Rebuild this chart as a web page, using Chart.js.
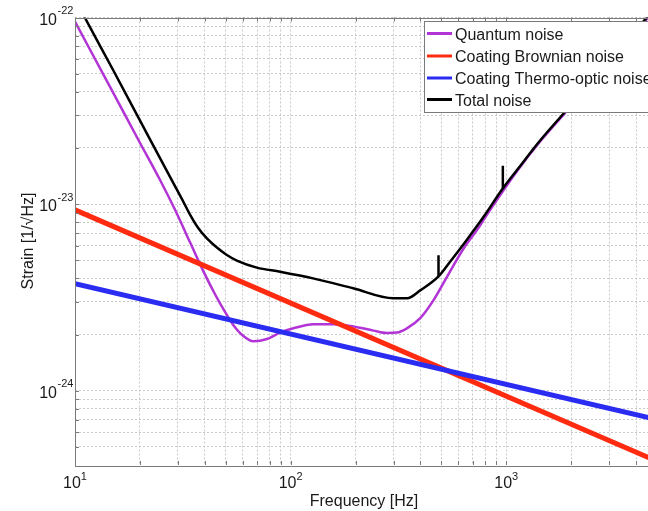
<!DOCTYPE html>
<html>
<head>
<meta charset="utf-8">
<script src="https://cdn.jsdelivr.net/npm/chart.js@4.4.1/dist/chart.umd.min.js"></script>
<style>
  html, body { margin: 0; padding: 0; background: #fff; overflow: hidden; }
  canvas { display: block; }
</style>
</head>
<body>
<canvas id="noise" width="665" height="511"></canvas>
<script>
// Noise budget: strain amplitude spectral densities [1/sqrt(Hz)] versus frequency [Hz]
const quantumFreq   = [10, 15, 20, 24.8, 29.1, 34.2, 39.4, 44.6, 49.7, 54.3, 60.4, 67.2, 77.6, 89.4, 103, 127.6, 158, 195.6, 242, 279.5, 311, 346, 399, 460, 531, 634, 757, 785, 938, 1121, 1438, 1914, 2800, 5000];
const quantumStrain = [9.5e-23, 3.97e-23, 2.133e-23, 1.346e-23, 9.32e-24, 6.22e-24, 4.36e-24, 3.29e-24, 2.635e-24, 2.246e-24, 1.963e-24, 1.84e-24, 1.892e-24, 2.05e-24, 2.16e-24, 2.27e-24, 2.27e-24, 2.21e-24, 2.10e-24, 2.04e-24, 2.05e-24, 2.16e-24, 2.45e-24, 3.06e-24, 4.08e-24, 5.78e-24, 7.69e-24, 8.24e-24, 1.12e-23, 1.5e-23, 2.17e-23, 3.17e-23, 5.3e-23, 1.13e-22];

const brownianFreq   = [10, 5000];
const brownianStrain = [9.31e-24, 4.19e-25];

const thermoOpticFreq   = [10, 5000];
const thermoOpticStrain = [3.75e-24, 7.0e-25];

const totalFreq   = [10, 11.1, 15, 20, 25, 31.3, 34.2, 37.2, 41.0, 45.5, 50.2, 56.3, 69.7, 89.4, 127, 195, 299, 347, 399, 485, 550, 657, 785, 938, 964, 1121, 1438, 1914, 2800, 5000];
const totalStrain = [1.26e-22, 1.0e-22, 5.25e-23, 2.81e-23, 1.73e-23, 1.067e-23, 8.76e-24, 7.47e-24, 6.53e-24, 5.85e-24, 5.37e-24, 4.98e-24, 4.57e-24, 4.34e-24, 4.0e-24, 3.54e-24, 3.13e-24, 3.13e-24, 3.45e-24, 4.10e-24, 4.93e-24, 6.45e-24, 8.55e-24, 1.162e-23, 1.214e-23, 1.522e-23, 2.199e-23, 3.216e-23, 5.4e-23, 1.15e-22];

// narrow resonance lines on top of the total
const lineFreqs      = [485, 964];
const lineBaseStrain = [4.10e-24, 1.214e-23];
const linePeakStrain = [5.32e-24, 1.604e-23];

const seriesLabels = ['Quantum noise', 'Coating Brownian noise', 'Coating Thermo-optic noise', 'Total noise'];
const seriesColors = ['#b334d6', '#ff2b10', '#2a2cf2', '#000000'];

// grid and decade labels
const xGridValues = [10, 20, 30, 40, 50, 60, 70, 80, 90, 100, 200, 300, 400, 500, 600, 700, 800, 900, 1000, 2000, 3000, 4000, 5000];
const yGridValues = [5e-25, 6e-25, 7e-25, 8e-25, 9e-25, 1e-24, 2e-24, 3e-24, 4e-24, 5e-24, 6e-24, 7e-24, 8e-24, 9e-24, 1e-23, 2e-23, 3e-23, 4e-23, 5e-23, 6e-23, 7e-23, 8e-23, 9e-23, 1e-22];
const xDecadeValues = [10, 100, 1000];
const xDecadeExps   = ['1', '2', '3'];
const yDecadeValues = [1e-22, 1e-23, 1e-24];
const yDecadeExps   = ['-22', '-23', '-24'];
const xTitle = 'Frequency [Hz]';
const yTitle = 'Strain [1/\u221AHz]';

const FONT = '"Liberation Sans", Arial, Helvetica, sans-serif';
const TEXT = '#1a1a1a';
const AXIS = '#7a7a7a';

const pts = (xs, ys) => xs.map((x, i) => ({ x: x, y: ys[i] }));

const framePlugin = {
  id: 'frame',
  afterDraw(chart) {
    const ctx = chart.ctx;
    const a = chart.chartArea;
    const xs = chart.scales.x, ys = chart.scales.y;
    ctx.save();

    // axes box
    ctx.strokeStyle = AXIS;
    ctx.lineWidth = 1;
    ctx.strokeRect(Math.round(a.left) + 0.5, Math.round(a.top) + 0.5,
                   Math.round(a.right - a.left), Math.round(a.bottom - a.top));

    // inward tick marks
    ctx.beginPath();
    xGridValues.forEach(v => {
      const px = Math.round(xs.getPixelForValue(v)) + 0.5;
      ctx.moveTo(px, a.bottom); ctx.lineTo(px, a.bottom - 4);
      ctx.moveTo(px, a.top); ctx.lineTo(px, a.top + 4);
    });
    yGridValues.forEach(v => {
      const py = Math.round(ys.getPixelForValue(v)) + 0.5;
      ctx.moveTo(a.left, py); ctx.lineTo(a.left + 4, py);
      ctx.moveTo(a.right, py); ctx.lineTo(a.right - 4, py);
    });
    ctx.stroke();

    // decade tick labels with superscript exponents
    ctx.fillStyle = TEXT;
    ctx.textBaseline = 'alphabetic';
    const baseFont = '16px ' + FONT, expFont = '11px ' + FONT;
    xDecadeValues.forEach((v, i) => {
      const px = xs.getPixelForValue(v);
      ctx.font = baseFont; const w1 = ctx.measureText('10').width;
      ctx.font = expFont;  const w2 = ctx.measureText(xDecadeExps[i]).width;
      const x0 = px - (w1 + w2) / 2;
      ctx.font = baseFont; ctx.textAlign = 'left'; ctx.fillText('10', x0, 487.5);
      ctx.font = expFont;  ctx.fillText(xDecadeExps[i], x0 + w1, 480);
    });
    yDecadeValues.forEach((v, i) => {
      const py = ys.getPixelForValue(v);
      ctx.font = baseFont; ctx.textAlign = 'right'; ctx.fillText('10', 57, py + 7.3);
      ctx.font = expFont;  ctx.textAlign = 'left';  ctx.fillText(yDecadeExps[i], 57.5, py - 3.3);
    });

    // axis titles
    ctx.font = '16px ' + FONT;
    ctx.textAlign = 'center';
    ctx.fillText(xTitle, 364, 505.5);
    ctx.save();
    ctx.translate(33, 241);
    ctx.rotate(-Math.PI / 2);
    ctx.fillText(yTitle, 0, 0);
    ctx.restore();

    // legend box in the upper right of the axes
    const lx = 424, ly = 21, lw = 240, lh = 91;
    ctx.fillStyle = '#ffffff';
    ctx.fillRect(lx, ly, lw, lh);
    ctx.strokeStyle = AXIS;
    ctx.strokeRect(lx + 0.5, ly + 0.5, lw, lh);
    const rows = [33.5, 56, 78, 99.5];
    ctx.font = '16px ' + FONT;
    ctx.textAlign = 'left';
    seriesLabels.forEach((label, i) => {
      ctx.strokeStyle = seriesColors[i];
      ctx.lineWidth = 3;
      ctx.beginPath();
      ctx.moveTo(427, rows[i]); ctx.lineTo(452, rows[i]);
      ctx.stroke();
      ctx.fillStyle = TEXT;
      ctx.fillText(label, 455, rows[i] + 6);
    });
    ctx.restore();
  }
};

const gridStyle = { color: '#c9c9c9', lineWidth: 1, drawTicks: false };
const borderStyle = { display: false, dash: [2, 2] };

new Chart(document.getElementById('noise'), {
  type: 'line',
  data: {
    datasets: [
      { label: seriesLabels[0], data: pts(quantumFreq, quantumStrain), borderColor: seriesColors[0],
        borderWidth: 2.5, order: 3, cubicInterpolationMode: 'monotone' },
      { label: seriesLabels[1], data: pts(brownianFreq, brownianStrain), borderColor: seriesColors[1],
        borderWidth: 5, order: 2 },
      { label: seriesLabels[2], data: pts(thermoOpticFreq, thermoOpticStrain), borderColor: seriesColors[2],
        borderWidth: 5, order: 1 },
      { label: seriesLabels[3], data: pts(totalFreq, totalStrain), borderColor: seriesColors[3],
        borderWidth: 2.5, order: 0, cubicInterpolationMode: 'monotone' },
      ...lineFreqs.map((f, i) => ({
        label: seriesLabels[3], data: [{ x: f, y: lineBaseStrain[i] }, { x: f, y: linePeakStrain[i] }],
        borderColor: seriesColors[3], borderWidth: 2.5, order: 0
      }))
    ]
  },
  options: {
    responsive: false,
    animation: false,
    devicePixelRatio: 1,
    layout: { padding: { left: 75, top: 17.5, right: 8, bottom: 46 } },
    elements: { point: { radius: 0, hoverRadius: 0 }, line: { fill: false, tension: 0 } },
    datasets: { line: { clip: 0 } },
    plugins: { legend: { display: false }, tooltip: { enabled: false } },
    scales: {
      x: {
        type: 'logarithmic', min: 10, max: 5000,
        afterBuildTicks: s => { s.ticks = xGridValues.map(v => ({ value: v })); },
        ticks: { display: false },
        grid: gridStyle, border: borderStyle
      },
      y: {
        type: 'logarithmic', min: 4.14e-25, max: 1e-22,
        afterBuildTicks: s => { s.ticks = yGridValues.map(v => ({ value: v })); },
        ticks: { display: false },
        grid: gridStyle, border: borderStyle
      }
    }
  },
  plugins: [framePlugin]
});
</script>
</body>
</html>
